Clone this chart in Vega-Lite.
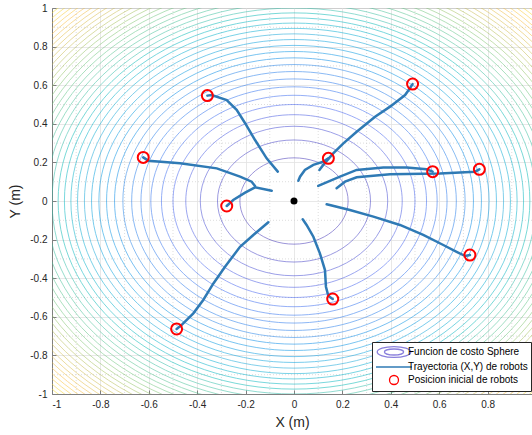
{
  "$schema": "https://vega.github.io/schema/vega-lite/v6.json",
  "autosize": "none",
  "width": 480,
  "height": 386,
  "padding": {"left": 52, "top": 8, "right": 0, "bottom": 41},
  "background": "white",
  "config": {
    "view": {"stroke": "#808080", "strokeWidth": 1},
    "axis": {
      "labelFont": "Liberation Sans",
      "labelFontSize": 10,
      "labelColor": "#262626",
      "titleFont": "Liberation Sans",
      "titleFontSize": 14,
      "titleFontWeight": "normal",
      "titleColor": "#262626",
      "domainColor": "#808080",
      "tickColor": "#808080",
      "gridColor": "#e2e2e2",
      "gridWidth": 0.8
    }
  },
  "datasets": {
    "minor": [
      {"v": -0.9}, {"v": -0.7}, {"v": -0.5}, {"v": -0.3}, {"v": -0.1},
      {"v": 0.1}, {"v": 0.3}, {"v": 0.5}, {"v": 0.7}, {"v": 0.9}
    ],
    "contours": [
      {"x": 0, "y": 0, "level": 0.05}, {"x": 0, "y": 0, "level": 0.10}, {"x": 0, "y": 0, "level": 0.15},
      {"x": 0, "y": 0, "level": 0.20}, {"x": 0, "y": 0, "level": 0.25}, {"x": 0, "y": 0, "level": 0.30},
      {"x": 0, "y": 0, "level": 0.35}, {"x": 0, "y": 0, "level": 0.40}, {"x": 0, "y": 0, "level": 0.45},
      {"x": 0, "y": 0, "level": 0.50}, {"x": 0, "y": 0, "level": 0.55}, {"x": 0, "y": 0, "level": 0.60},
      {"x": 0, "y": 0, "level": 0.65}, {"x": 0, "y": 0, "level": 0.70}, {"x": 0, "y": 0, "level": 0.75},
      {"x": 0, "y": 0, "level": 0.80}, {"x": 0, "y": 0, "level": 0.85}, {"x": 0, "y": 0, "level": 0.90},
      {"x": 0, "y": 0, "level": 0.95}, {"x": 0, "y": 0, "level": 1.00}, {"x": 0, "y": 0, "level": 1.05},
      {"x": 0, "y": 0, "level": 1.10}, {"x": 0, "y": 0, "level": 1.15}, {"x": 0, "y": 0, "level": 1.20},
      {"x": 0, "y": 0, "level": 1.25}, {"x": 0, "y": 0, "level": 1.30}, {"x": 0, "y": 0, "level": 1.35},
      {"x": 0, "y": 0, "level": 1.40}, {"x": 0, "y": 0, "level": 1.45}, {"x": 0, "y": 0, "level": 1.50},
      {"x": 0, "y": 0, "level": 1.55}, {"x": 0, "y": 0, "level": 1.60}, {"x": 0, "y": 0, "level": 1.65},
      {"x": 0, "y": 0, "level": 1.70}, {"x": 0, "y": 0, "level": 1.75}, {"x": 0, "y": 0, "level": 1.80},
      {"x": 0, "y": 0, "level": 1.85}, {"x": 0, "y": 0, "level": 1.90}, {"x": 0, "y": 0, "level": 1.95}
    ],
    "paths": [
      {"robot": 1, "k": 0, "x": -0.358, "y": 0.546}, {"robot": 1, "k": 1, "x": -0.340, "y": 0.549},
      {"robot": 1, "k": 2, "x": -0.278, "y": 0.523}, {"robot": 1, "k": 3, "x": -0.237, "y": 0.472},
      {"robot": 1, "k": 4, "x": -0.202, "y": 0.403}, {"robot": 1, "k": 5, "x": -0.161, "y": 0.316},
      {"robot": 1, "k": 6, "x": -0.113, "y": 0.221}, {"robot": 1, "k": 7, "x": -0.067, "y": 0.152},
      {"robot": 2, "k": 0, "x": -0.623, "y": 0.226}, {"robot": 2, "k": 1, "x": -0.602, "y": 0.209},
      {"robot": 2, "k": 2, "x": -0.471, "y": 0.195}, {"robot": 2, "k": 3, "x": -0.319, "y": 0.169},
      {"robot": 2, "k": 4, "x": -0.223, "y": 0.126}, {"robot": 2, "k": 5, "x": -0.175, "y": 0.100},
      {"robot": 2, "k": 6, "x": -0.161, "y": 0.078},
      {"robot": 3, "k": 0, "x": -0.278, "y": -0.026}, {"robot": 3, "k": 1, "x": -0.251, "y": 0.005},
      {"robot": 3, "k": 2, "x": -0.202, "y": 0.043}, {"robot": 3, "k": 3, "x": -0.161, "y": 0.071},
      {"robot": 3, "k": 4, "x": -0.092, "y": 0.053},
      {"robot": 4, "k": 0, "x": -0.485, "y": -0.663}, {"robot": 4, "k": 1, "x": -0.464, "y": -0.642},
      {"robot": 4, "k": 2, "x": -0.416, "y": -0.582}, {"robot": 4, "k": 3, "x": -0.375, "y": -0.513},
      {"robot": 4, "k": 4, "x": -0.333, "y": -0.427}, {"robot": 4, "k": 5, "x": -0.285, "y": -0.341},
      {"robot": 4, "k": 6, "x": -0.223, "y": -0.237}, {"robot": 4, "k": 7, "x": -0.168, "y": -0.176},
      {"robot": 4, "k": 8, "x": -0.106, "y": -0.110},
      {"robot": 5, "k": 0, "x": 0.160, "y": -0.508}, {"robot": 5, "k": 1, "x": 0.142, "y": -0.492},
      {"robot": 5, "k": 2, "x": 0.132, "y": -0.444}, {"robot": 5, "k": 3, "x": 0.128, "y": -0.358},
      {"robot": 5, "k": 4, "x": 0.107, "y": -0.271}, {"robot": 5, "k": 5, "x": 0.080, "y": -0.185},
      {"robot": 5, "k": 6, "x": 0.052, "y": -0.124}, {"robot": 5, "k": 7, "x": 0.036, "y": -0.095},
      {"robot": 6, "k": 0, "x": 0.727, "y": -0.280}, {"robot": 6, "k": 1, "x": 0.707, "y": -0.285},
      {"robot": 6, "k": 2, "x": 0.672, "y": -0.263}, {"robot": 6, "k": 3, "x": 0.617, "y": -0.228},
      {"robot": 6, "k": 4, "x": 0.534, "y": -0.176}, {"robot": 6, "k": 5, "x": 0.438, "y": -0.124},
      {"robot": 6, "k": 6, "x": 0.328, "y": -0.081}, {"robot": 6, "k": 7, "x": 0.231, "y": -0.047},
      {"robot": 6, "k": 8, "x": 0.135, "y": -0.017},
      {"robot": 7, "k": 0, "x": 0.766, "y": 0.164}, {"robot": 7, "k": 1, "x": 0.748, "y": 0.152},
      {"robot": 7, "k": 2, "x": 0.603, "y": 0.143}, {"robot": 7, "k": 3, "x": 0.397, "y": 0.138},
      {"robot": 7, "k": 4, "x": 0.259, "y": 0.123}, {"robot": 7, "k": 5, "x": 0.211, "y": 0.100},
      {"robot": 7, "k": 6, "x": 0.176, "y": 0.066},
      {"robot": 8, "k": 0, "x": 0.573, "y": 0.152}, {"robot": 8, "k": 1, "x": 0.548, "y": 0.164},
      {"robot": 8, "k": 2, "x": 0.466, "y": 0.173}, {"robot": 8, "k": 3, "x": 0.369, "y": 0.173},
      {"robot": 8, "k": 4, "x": 0.259, "y": 0.161}, {"robot": 8, "k": 5, "x": 0.190, "y": 0.126},
      {"robot": 8, "k": 6, "x": 0.100, "y": 0.078},
      {"robot": 9, "k": 0, "x": 0.142, "y": 0.221}, {"robot": 9, "k": 1, "x": 0.121, "y": 0.204},
      {"robot": 9, "k": 2, "x": 0.080, "y": 0.187}, {"robot": 9, "k": 3, "x": 0.045, "y": 0.161},
      {"robot": 9, "k": 4, "x": 0.025, "y": 0.126}, {"robot": 9, "k": 5, "x": 0.018, "y": 0.105},
      {"robot": 10, "k": 0, "x": 0.490, "y": 0.606}, {"robot": 10, "k": 1, "x": 0.479, "y": 0.584},
      {"robot": 10, "k": 2, "x": 0.459, "y": 0.549}, {"robot": 10, "k": 3, "x": 0.397, "y": 0.489},
      {"robot": 10, "k": 4, "x": 0.335, "y": 0.437}, {"robot": 10, "k": 5, "x": 0.259, "y": 0.359},
      {"robot": 10, "k": 6, "x": 0.204, "y": 0.299}, {"robot": 10, "k": 7, "x": 0.162, "y": 0.247},
      {"robot": 10, "k": 8, "x": 0.121, "y": 0.187}, {"robot": 10, "k": 9, "x": 0.105, "y": 0.161}
    ],
    "starts": [
      {"robot": 1, "x": -0.358, "y": 0.546}, {"robot": 2, "x": -0.623, "y": 0.226},
      {"robot": 3, "x": -0.278, "y": -0.026}, {"robot": 4, "x": -0.485, "y": -0.663},
      {"robot": 5, "x": 0.160, "y": -0.508}, {"robot": 6, "x": 0.727, "y": -0.280},
      {"robot": 7, "x": 0.766, "y": 0.164}, {"robot": 8, "x": 0.573, "y": 0.152},
      {"robot": 9, "x": 0.142, "y": 0.221}, {"robot": 10, "x": 0.490, "y": 0.606}
    ],
    "target": [{"x": 0, "y": 0}],
    "leyenda": [
      {"serie": "Funcion de costo Sphere", "x": 5, "y": 5},
      {"serie": "Trayectoria (X,Y) de robots", "x": 5, "y": 5},
      {"serie": "Posicion inicial de robots", "x": 5, "y": 5}
    ]
  },
  "layer": [
    {
      "data": {"name": "minor"},
      "mark": {"type": "rule", "color": "#cfcfcf", "strokeDash": [1, 2], "strokeWidth": 0.7},
      "encoding": {
        "x": {
          "field": "v", "type": "quantitative",
          "scale": {"domain": [-1, 0.9835], "nice": false, "zero": false}
        }
      }
    },
    {
      "data": {"name": "minor"},
      "mark": {"type": "rule", "color": "#cfcfcf", "strokeDash": [1, 2], "strokeWidth": 0.7},
      "encoding": {
        "y": {
          "field": "v", "type": "quantitative",
          "scale": {"domain": [-1, 1], "nice": false, "zero": false}
        }
      }
    },
    {
      "data": {"name": "contours"},
      "mark": {
        "type": "point",
        "shape": "M1,0C1,0.4405 0.5523,0.7975 0,0.7975C-0.5523,0.7975 -1,0.4405 -1,0C-1,-0.4405 -0.5523,-0.7975 0,-0.7975C0.5523,-0.7975 1,-0.4405 1,0Z",
        "filled": false,
        "strokeWidth": 0.8,
        "opacity": 0.65,
        "clip": true
      },
      "encoding": {
        "x": {
          "field": "x", "type": "quantitative",
          "scale": {"domain": [-1, 0.9835], "nice": false, "zero": false},
          "axis": {
            "values": [-1, -0.8, -0.6, -0.4, -0.2, 0, 0.2, 0.4, 0.6, 0.8],
            "tickCount": 20,
            "format": "~g",
            "labelExpr": "replace(datum.label, '−', '-')",
            "labelOverlap": false,
            "title": "X (m)",
            "grid": true,
            "tickSize": -4,
            "labelPadding": 9,
            "titlePadding": 6
          }
        },
        "y": {
          "field": "y", "type": "quantitative",
          "scale": {"domain": [-1, 1], "nice": false, "zero": false},
          "axis": {
            "values": [-1, -0.8, -0.6, -0.4, -0.2, 0, 0.2, 0.4, 0.6, 0.8, 1],
            "tickCount": 20,
            "format": "~g",
            "labelExpr": "replace(datum.label, '−', '-')",
            "labelOverlap": false,
            "title": "Y (m)",
            "grid": true,
            "tickSize": -4,
            "labelPadding": 9,
            "titlePadding": 7
          }
        },
        "size": {"field": "level", "type": "quantitative", "scale": {"type": "linear", "domain": [0, 2], "range": [0, 468512], "nice": false, "zero": true}, "legend": null},
        "stroke": {
          "field": "level", "type": "quantitative",
          "scale": {
            "domain": [0, 0.25, 0.5, 0.75, 1, 1.25, 1.5, 1.75, 2],
            "range": ["#3e26a8", "#4060f0", "#2080e8", "#10a4d8", "#2ebca8", "#6ec67c", "#c8bc50", "#fbbc3c", "#f5e61c"]
          },
          "legend": null
        }
      }
    },
    {
      "data": {"name": "paths"},
      "mark": {"type": "line", "color": "#2f7ab5", "strokeWidth": 2.5, "strokeCap": "round"},
      "encoding": {
        "x": {"field": "x", "type": "quantitative", "scale": {"domain": [-1, 0.9835], "nice": false, "zero": false}},
        "y": {"field": "y", "type": "quantitative", "scale": {"domain": [-1, 1], "nice": false, "zero": false}},
        "detail": {"field": "robot", "type": "nominal"},
        "order": {"field": "k", "type": "quantitative"}
      }
    },
    {
      "data": {"name": "starts"},
      "mark": {"type": "point", "shape": "circle", "filled": false, "color": "#ff0000", "size": 121, "strokeWidth": 2, "opacity": 1},
      "encoding": {
        "x": {"field": "x", "type": "quantitative", "scale": {"domain": [-1, 0.9835], "nice": false, "zero": false}},
        "y": {"field": "y", "type": "quantitative", "scale": {"domain": [-1, 1], "nice": false, "zero": false}}
      }
    },
    {
      "data": {"name": "target"},
      "mark": {"type": "point", "shape": "circle", "filled": true, "color": "#000000", "size": 49, "opacity": 1},
      "encoding": {
        "x": {"field": "x", "type": "quantitative", "scale": {"domain": [-1, 0.9835], "nice": false, "zero": false}},
        "y": {"field": "y", "type": "quantitative", "scale": {"domain": [-1, 1], "nice": false, "zero": false}}
      }
    },
    {
      "data": {"name": "leyenda"},
      "mark": {"type": "point", "filled": false, "opacity": 1, "clip": true},
      "encoding": {
        "x": {"field": "x", "type": "quantitative", "scale": {"domain": [-1, 0.9835], "nice": false, "zero": false}},
        "y": {"field": "y", "type": "quantitative", "scale": {"domain": [-1, 1], "nice": false, "zero": false}},
        "color": {
          "field": "serie", "type": "nominal",
          "scale": {
            "domain": ["Funcion de costo Sphere", "Trayectoria (X,Y) de robots", "Posicion inicial de robots"],
            "range": ["#8a80dc", "#2f7ab5", "#ff0000"]
          },
          "legend": {
            "orient": "none", "legendX": 320, "legendY": 334, "title": null,
            "symbolSize": 144, "symbolStrokeWidth": 1.3, "symbolOffset": 12, "labelOffset": 7,
            "labelFont": "Liberation Sans", "labelFontSize": 10, "labelColor": "#000000",
            "strokeColor": "#262626", "fillColor": "#ffffff", "padding": 3, "rowPadding": 0, "cornerRadius": 0
          }
        },
        "shape": {
          "field": "serie", "type": "nominal",
          "scale": {
            "domain": ["Funcion de costo Sphere", "Trayectoria (X,Y) de robots", "Posicion inicial de robots"],
            "range": [
              "M2.8,0C2.8,0.4971 1.5464,0.9 0,0.9C-1.5464,0.9 -2.8,0.4971 -2.8,0C-2.8,-0.4971 -1.5464,-0.9 0,-0.9C1.5464,-0.9 2.8,-0.4971 2.8,0ZM1.6,0C1.6,0.2761 0.8837,0.5 0,0.5C-0.8837,0.5 -1.6,0.2761 -1.6,0C-1.6,-0.2761 -0.8837,-0.5 0,-0.5C0.8837,-0.5 1.6,-0.2761 1.6,0Z",
              "M-3,0L3,0",
              "M0.75,0C0.75,0.4142 0.4142,0.75 0,0.75C-0.4142,0.75 -0.75,0.4142 -0.75,0C-0.75,-0.4142 -0.4142,-0.75 0,-0.75C0.4142,-0.75 0.75,-0.4142 0.75,0Z"
            ]
          },
          "legend": {
            "orient": "none", "legendX": 320, "legendY": 334, "title": null,
            "symbolSize": 144, "symbolStrokeWidth": 1.3, "symbolOffset": 12, "labelOffset": 7,
            "labelFont": "Liberation Sans", "labelFontSize": 10, "labelColor": "#000000",
            "strokeColor": "#262626", "fillColor": "#ffffff", "padding": 3, "rowPadding": 0, "cornerRadius": 0
          }
        }
      }
    }
  ]
}
